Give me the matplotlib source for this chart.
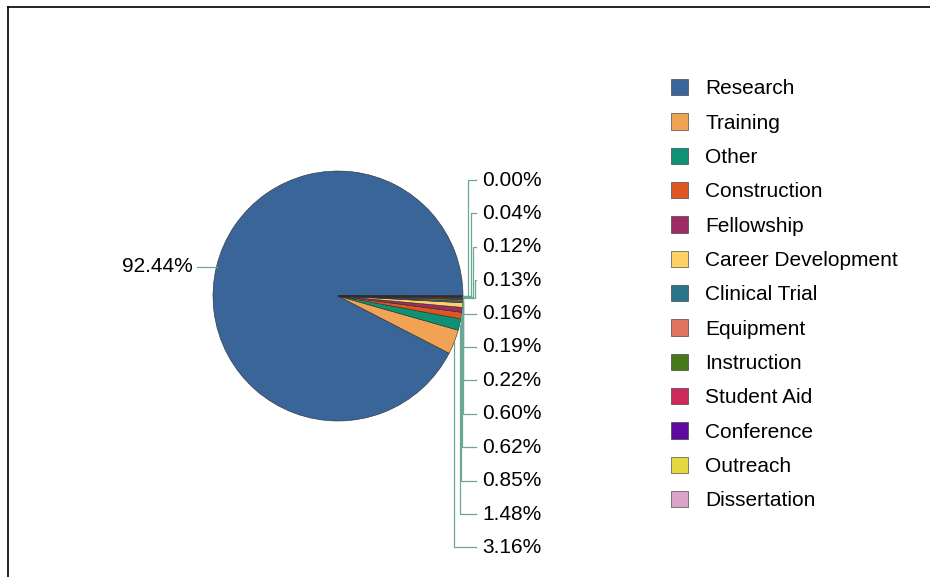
import matplotlib.pyplot as plt
from matplotlib.lines import Line2D
import numpy as np

plt.rcParams['font.family'] = ['Liberation Sans', 'DejaVu Sans']

# data
categories = ['Research', 'Training', 'Other', 'Construction', 'Fellowship',
              'Career Development', 'Clinical Trial', 'Equipment', 'Instruction',
              'Student Aid', 'Conference', 'Outreach', 'Dissertation']
percents = [92.44, 3.16, 1.48, 0.85, 0.62, 0.60, 0.22, 0.19, 0.16, 0.13, 0.12, 0.04, 0.001]
colors = ['#3a6598', '#f0a354', '#0d9373', '#df5620', '#9e2b63', '#fdd166', '#2a7589',
          '#e0735f', '#47781a', '#cd2a5b', '#5c0aa0', '#e3d93f', '#dba3c8']

W, H = 930, 577
fig = plt.figure(figsize=(W / 100, H / 100), dpi=100)
ax = fig.add_axes([0, 0, 1, 1])

cx, cy, r = 338, H - 296, 125
wedges, _ = ax.pie(percents, colors=colors, startangle=0, counterclock=True,
                   center=(cx, cy), radius=r, frame=True,
                   wedgeprops=dict(edgecolor='#2b2b2b', linewidth=0.4))
ax.set_xlim(0, W)
ax.set_ylim(0, H)
ax.axis('off')

line_col = '#6aa894'
fs = 15

# leader labels
for i, w in enumerate(wedges):
    mid = np.deg2rad((w.theta1 + w.theta2) / 2)
    ax_x, ax_y = cx + r * np.cos(mid), cy + r * np.sin(mid)
    txt = '%.2f%%' % percents[i]
    if i == 0:
        ax.plot([ax_x, 197], [ax_y, ax_y], color=line_col, lw=0.9)
        ax.text(193, ax_y, txt, ha='right', va='center', fontsize=fs)
        continue
    k = len(wedges) - 1 - i          # 0 = top label
    ly = H - (180 + k * 33.4)
    if ly > ax_y:
        ex = ax_x + [5, 8, 10, 12][min(k, 3)]
    else:
        ex = ax_x
    ax.plot([ax_x, ex, ex, 476], [ax_y, ax_y, ly, ly], color=line_col, lw=0.9)
    ax.text(482, ly, txt, ha='left', va='center', fontsize=fs)

ax.legend(wedges, categories, loc='upper left',
          bbox_to_anchor=(671 / W, 1 - 79 / H), frameon=False,
          fontsize=fs, borderpad=0, borderaxespad=0,
          handlelength=0.82, handleheight=0.82, handletextpad=0.82,
          labelspacing=0.72)

# frame on top and left
fig.add_artist(Line2D([8 / W, 1], [1 - 7 / H, 1 - 7 / H], transform=fig.transFigure,
                      color='black', lw=1.2))
fig.add_artist(Line2D([8 / W, 8 / W], [0, 1 - 7 / H], transform=fig.transFigure,
                      color='black', lw=1.2))

fig.savefig('out.png', dpi=100)
